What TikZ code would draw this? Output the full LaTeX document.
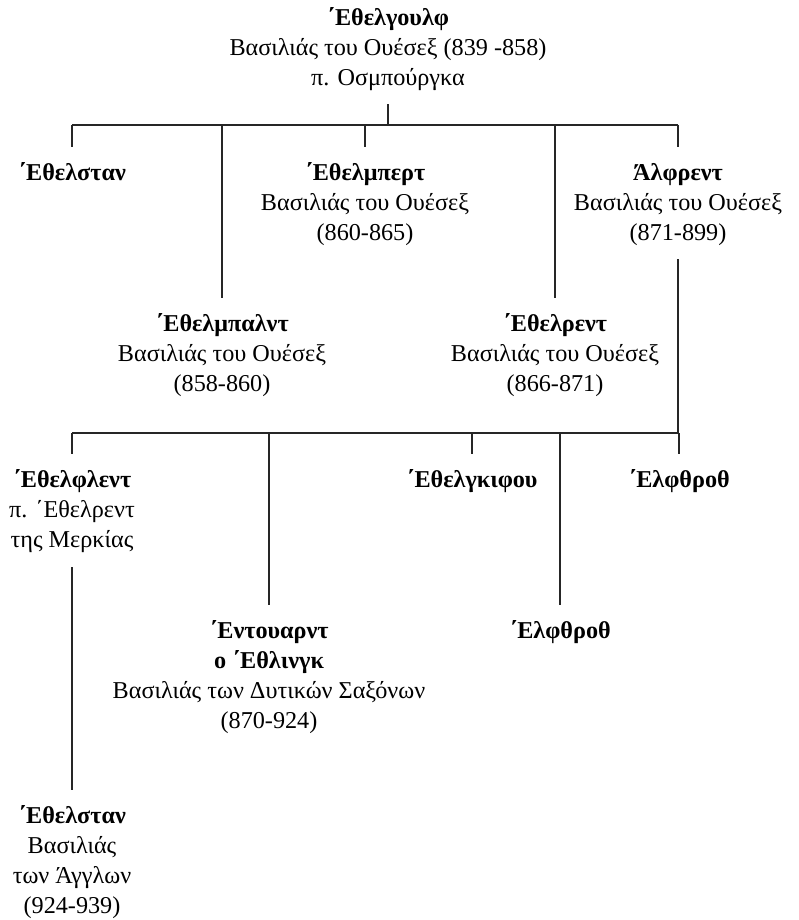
\documentclass[tikz,border=0pt]{standalone}
\usepackage{fontspec}
\setmainfont{Liberation Serif}
\usepackage{tikz}
\usetikzlibrary{calc}
\tikzset{
    % Nodes
    person/.style={anchor=north,inner sep=0pt,outer sep=0pt,align=center},
    %
    % Lines
    family line/.style={line width=1.1pt,color=black!85}
}
\tikzstyle{every node}=[font=\fontsize{24.2}{30}\selectfont]

\begin{document}
\begin{tikzpicture}[x=1pt,y=-1pt]
        \useasboundingbox (0,0) rectangle (799,920);
        % generation 1
        \node[person] (ethelwulf) at (388,8) {\textbf{΄Εθελγουλφ}\\Βασιλιάς του Ουέσεξ (839 -858)\\π. Οσμπούργκα};
        % generation 2
        \node[person] (athelstan) at (72,163) {\textbf{΄Εθελσταν}};
        \node[person] (aethelberht) at (365,163) {\textbf{΄Εθελμπερτ}\\Βασιλιάς του Ουέσεξ\\(860-865)};
        \node[person] (alfred) at (678,163) {\textbf{Άλφρεντ}\\Βασιλιάς του Ουέσεξ\\(871-899)};
        \node[person] (aethelbald) at (222,314) {\textbf{΄Εθελμπαλντ}\\Βασιλιάς του Ουέσεξ\\(858-860)};
        \node[person] (aethelred) at (555,314) {\textbf{΄Εθελρεντ}\\Βασιλιάς του Ουέσεξ\\(866-871)};
        % generation 3
        \node[person] (aethelflaed) at (72,470) {\textbf{΄Εθελφλεντ}\\π. ΄Εθελρεντ\\της Μερκίας};
        \node[person] (aethelgifu) at (472,470) {\textbf{΄Εθελγκιφου}};
        \node[person] (aelfthryth) at (679,470) {\textbf{΄Ελφθροθ}};
        \node[person] (edward) at (269,621) {\textbf{΄Εντουαρντ}\\\textbf{ο ΄Εθλινγκ}\\Βασιλιάς των Δυτικών Σαξόνων\\(870-924)};
        \node[person] (aelfthrythb) at (560,621) {\textbf{΄Ελφθροθ}};
        % generation 4
        \node[person] (athelstanb) at (72,806) {\textbf{΄Εθελσταν}\\Βασιλιάς\\των Άγγλων\\(924-939)};

        % children of Ethelwulf
        \coordinate (bar1) at (388,125);
        \draw[family line] ([yshift=-13pt]ethelwulf.south) -- (bar1);
        \draw[family line] (athelstan.north |- bar1) -- (alfred.north |- bar1);
        \foreach \n in {athelstan,aethelbald,aethelberht,aethelred,alfred}{
            \draw[family line] (\n.north |- bar1) -- ([yshift=16pt]\n.north);
        }
        % children of Alfred
        \coordinate (bar2) at (alfred.south |- 0,433);
        \draw[family line] ([yshift=-14pt]alfred.south) -- (bar2);
        \draw[family line] (aethelflaed.north |- bar2) -- (bar2);
        \foreach \n in {aethelflaed,edward,aethelgifu,aelfthrythb,aelfthryth}{
            \draw[family line] (\n.north |- bar2) -- ([yshift=16pt]\n.north);
        }
        % son of Aethelflaed
        \draw[family line] ([yshift=-14pt]aethelflaed.south) -- ([yshift=16pt]athelstanb.north);
    \end{tikzpicture}
\end{document}
